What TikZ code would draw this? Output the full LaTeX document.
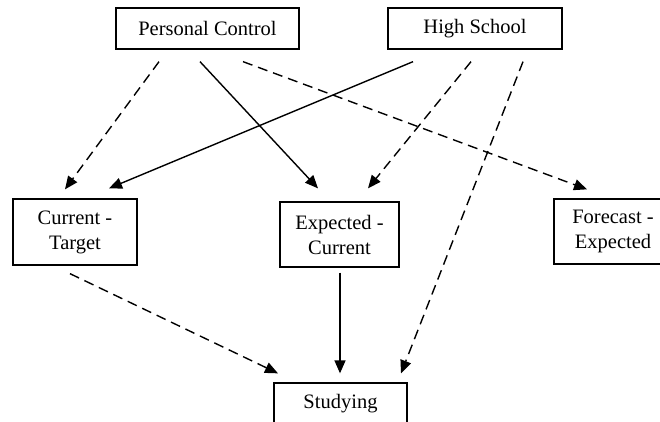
\documentclass[tikz,border=0pt]{standalone}
\usepackage{fontspec}
\setmainfont{Liberation Serif}
\usetikzlibrary{arrows.meta,calc}
\begin{document}
\begin{tikzpicture}[x=1pt,y=-1pt,
  box/.style={draw,line width=1.3pt,inner sep=0pt,align=center,
    font=\fontsize{20.5}{25}\selectfont},
  arr/.style={line width=1.4pt,-{Triangle[length=13pt,width=11pt]}},
  dsh/.style={arr,dash pattern=on 10pt off 6pt}]
\useasboundingbox (0,0) rectangle (660,421);
\node[box,minimum width=183pt,minimum height=41pt] (pc) at (207.5,28.5) {Personal Control};
\node[box,minimum width=174pt,minimum height=41pt] (hs) at (475,28.5) {High School};
\node[box,minimum width=124pt,minimum height=66pt] (ct) at (75,232) {Current -\\Target};
\node[box,minimum width=119pt,minimum height=65pt] (ec) at (339.5,234.5) {Expected -\\Current};
\node[box,minimum width=118pt,minimum height=65pt] (fe) at (613,231.5) {Forecast -\\Expected};
\node[box,minimum width=133pt,minimum height=41pt] (st) at (340.5,403.5) {Studying};
\draw[dsh] ($(pc.south)+(-48.5,12)$) -- ($(ct.north)+(-10,-9)$);
\draw[arr] ($(pc.south)+(-7.5,12)$) -- ($(ec.north)+(-21.5,-13)$);
\draw[dsh] ($(pc.south)+(35.5,12)$) -- ($(fe.north)+(-26,-9)$);
\draw[arr] ($(hs.south)+(-62,12)$) -- ($(ct.north)+(34,-10)$);
\draw[dsh] ($(hs.south)+(-4,12)$) -- ($(ec.north)+(28.5,-13)$);
\draw[dsh] ($(hs.south)+(48,12)$) -- ($(st.north)+(60.5,-9)$);
\draw[dsh] ($(ct.south)+(-5,8)$) -- ($(st.north)+(-62.5,-9)$);
\draw[arr] ($(ec.south)+(0.5,5)$) -- ($(st.north)+(-0.5,-9)$);
\end{tikzpicture}
\end{document}
